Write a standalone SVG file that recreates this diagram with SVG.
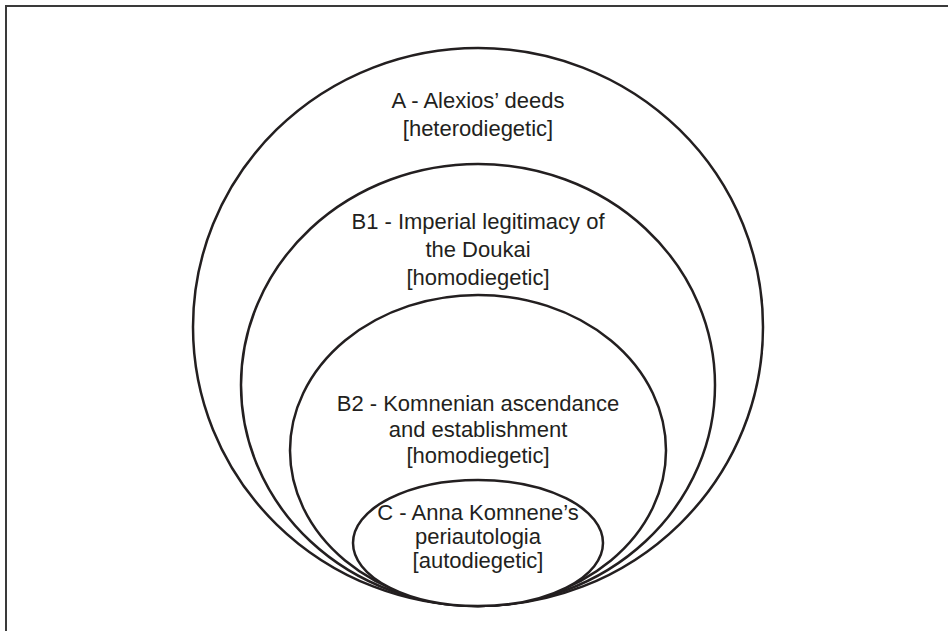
<svg xmlns="http://www.w3.org/2000/svg" width="948" height="631" viewBox="0 0 948 631">
<style>
.frame{fill:none;stroke:#3a3a3a;stroke-width:2}
.ring{fill:#fff;stroke:#231f20;stroke-width:2.5}
.lbl{font-family:"Liberation Sans",Arial,sans-serif;font-size:22px;fill:#231f20;text-anchor:middle}
</style>
<rect x="0" y="0" width="948" height="631" fill="#fff"/>
<path class="frame" d="M6,631 V6 H948"/>
<g id="A">
<ellipse class="ring" cx="478" cy="327" rx="285" ry="279"/>
<text class="lbl" x="478" y="108">A - Alexios’ deeds</text>
<text class="lbl" x="478" y="136">[heterodiegetic]</text>
</g>
<g id="B1">
<ellipse class="ring" cx="478" cy="385" rx="237" ry="221"/>
<text class="lbl" x="478" y="229">B1 - Imperial legitimacy of</text>
<text class="lbl" x="478" y="257">the Doukai</text>
<text class="lbl" x="478" y="285">[homodiegetic]</text>
</g>
<g id="B2">
<ellipse class="ring" cx="478" cy="450.5" rx="188" ry="155.5"/>
<text class="lbl" x="478" y="411">B2 - Komnenian ascendance</text>
<text class="lbl" x="478" y="437">and establishment</text>
<text class="lbl" x="478" y="463">[homodiegetic]</text>
</g>
<g id="C">
<ellipse class="ring" cx="478" cy="543" rx="125" ry="63"/>
<text class="lbl" x="478" y="520">C - Anna Komnene’s</text>
<text class="lbl" x="478" y="544">periautologia</text>
<text class="lbl" x="478" y="568">[autodiegetic]</text>
</g>
<g id="connectors"></g>
</svg>
